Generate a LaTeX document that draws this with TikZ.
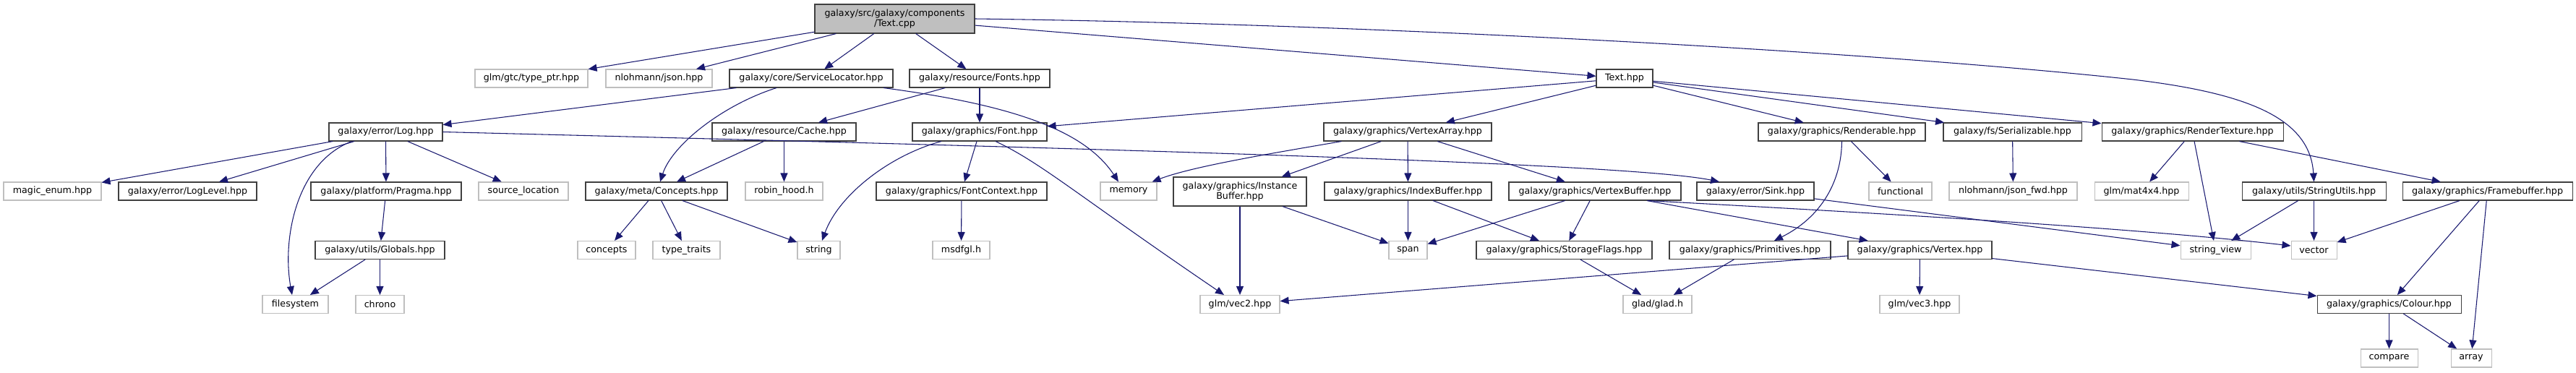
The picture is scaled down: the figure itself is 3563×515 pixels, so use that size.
\documentclass[tikz,border=0pt]{standalone}
\usepackage{fontspec}
\setmainfont{DejaVu Sans}
\usetikzlibrary{arrows.meta,calc}
\definecolor{edgeblue}{HTML}{191970}
\definecolor{docborder}{HTML}{404040}
\definecolor{extborder}{HTML}{BFBFBF}
\definecolor{mainfill}{HTML}{BFBFBF}
\begin{document}
\begin{tikzpicture}[x=0.75pt,y=-0.75pt,
  box/.style={rectangle, draw, line width=0.8pt, inner sep=0pt, minimum height=18.75pt, font=\fontsize{9.5}{11}\selectfont, text=black, align=center},
  doc/.style={box, draw=docborder},
  ext/.style={box, draw=extborder},
  dep/.style={draw=edgeblue, line width=0.8pt, -{Triangle[length=9pt,width=7.5pt]}}]
\useasboundingbox (0,0) rectangle (3563,515);
% row 1
\node[box, draw=docborder, fill=mainfill, minimum width=165.75pt, minimum height=30pt] (textcpp) at (1237.5,26) {galaxy/src/galaxy/components\\/Text.cpp};
% row 2
\node[ext, minimum width=117pt] (typeptr) at (735,108.5) {glm/gtc/type\_ptr.hpp};
\node[ext, minimum width=110.25pt] (json) at (911.5,108.5) {nlohmann/json.hpp};
\node[doc, minimum width=169.5pt] (svcloc) at (1122,108.5) {galaxy/core/ServiceLocator.hpp};
\node[doc, minimum width=145.5pt] (fonts) at (1355,108.5) {galaxy/resource/Fonts.hpp};
\node[doc, minimum width=58.5pt] (texthpp) at (2247,108.5) {Text.hpp};
% row 3
\node[doc, minimum width=117.75pt] (log) at (533.5,182.5) {galaxy/error/Log.hpp};
\node[doc, minimum width=149.25pt] (cache) at (1084.5,182.5) {galaxy/resource/Cache.hpp};
\node[doc, minimum width=139.5pt] (font) at (1355,182.5) {galaxy/graphics/Font.hpp};
\node[doc, minimum width=174pt] (va) at (1947,182.5) {galaxy/graphics/VertexArray.hpp};
\node[doc, minimum width=173.25pt] (renderable) at (2547.5,182.5) {galaxy/graphics/Renderable.hpp};
\node[doc, minimum width=143.25pt] (serializable) at (2783.5,182.5) {galaxy/fs/Serializable.hpp};
\node[doc, minimum width=188.25pt] (rendertexture) at (3032.5,182.5) {galaxy/graphics/RenderTexture.hpp};
% row 4
\node[ext, minimum width=101.25pt] (magic) at (72.5,264.5) {magic\_enum.hpp};
\node[doc, minimum width=143.25pt] (loglevel) at (259.5,264.5) {galaxy/error/LogLevel.hpp};
\node[doc, minimum width=156pt] (pragma) at (534,264.5) {galaxy/platform/Pragma.hpp};
\node[ext, minimum width=93pt] (srcloc) at (724,264.5) {source\_location};
\node[doc, minimum width=147pt] (conceptshpp) at (908,264.5) {galaxy/meta/Concepts.hpp};
\node[ext, minimum width=80.25pt] (robin) at (1084.5,264.5) {robin\_hood.h};
\node[doc, minimum width=177pt] (fontctx) at (1330,264.5) {galaxy/graphics/FontContext.hpp};
\node[ext, minimum width=58.5pt] (memory) at (1561,264.5) {memory};
\node[doc, minimum width=138pt, minimum height=30pt] (instbuf) at (1715,265) {galaxy/graphics/Instance\\Buffer.hpp};
\node[doc, minimum width=173.25pt] (indexbuf) at (1947.5,264.5) {galaxy/graphics/IndexBuffer.hpp};
\node[doc, minimum width=178.5pt] (vertexbuf) at (2206,264.5) {galaxy/graphics/VertexBuffer.hpp};
\node[doc, minimum width=121.5pt] (sink) at (2428,264.5) {galaxy/error/Sink.hpp};
\node[ext, minimum width=65.25pt] (functional) at (2628.5,264.5) {functional};
\node[ext, minimum width=132.75pt] (jsonfwd) at (2784.5,264.5) {nlohmann/json\_fwd.hpp};
\node[ext, minimum width=97.5pt] (mat4) at (2962,264.5) {glm/mat4x4.hpp};
\node[doc, minimum width=149.25pt] (stringutils) at (3200.5,264.5) {galaxy/utils/StringUtils.hpp};
\node[doc, minimum width=176.25pt] (framebuffer) at (3440.5,264.5) {galaxy/graphics/Framebuffer.hpp};
% row 5
\node[doc, minimum width=134.25pt] (globals) at (525.5,346) {galaxy/utils/Globals.hpp};
\node[ext, minimum width=60pt] (concepts) at (839,346) {concepts};
\node[ext, minimum width=69.75pt] (typetraits) at (949.5,346) {type\_traits};
\node[ext, minimum width=44.25pt] (string) at (1132.5,346) {string};
\node[ext, minimum width=59.25pt] (msdfgl) at (1329.5,346) {msdfgl.h};
\node[ext, minimum width=39.75pt] (span) at (1947.5,346) {span};
\node[doc, minimum width=182.25pt] (storageflags) at (2163.5,346) {galaxy/graphics/StorageFlags.hpp};
\node[doc, minimum width=167.25pt] (primitives) at (2420.5,346) {galaxy/graphics/Primitives.hpp};
\node[doc, minimum width=149.25pt] (vertex) at (2655.5,346) {galaxy/graphics/Vertex.hpp};
\node[ext, minimum width=72.75pt] (stringview) at (3064.5,346) {string\_view};
\node[ext, minimum width=47.25pt] (vector) at (3200.5,346) {vector};
% row 6
\node[ext, minimum width=68.25pt] (filesystem) at (408.5,421) {filesystem};
\node[ext, minimum width=50.25pt] (chrono) at (525.5,421) {chrono};
\node[ext, minimum width=82.5pt] (vec2) at (1715,421) {glm/vec2.hpp};
\node[ext, minimum width=71.25pt] (glad) at (2292.5,421) {glad/glad.h};
\node[ext, minimum width=82.5pt] (vec3) at (2655,421) {glm/vec3.hpp};
\node[doc, minimum width=149.25pt] (colour) at (3304.5,421) {galaxy/graphics/Colour.hpp};
% row 7
\node[ext, minimum width=59.25pt] (compare) at (3304.5,495.5) {compare};
\node[ext, minimum width=42pt] (array) at (3418,495.5) {array};

% edges from Text.cpp
\draw[dep] (textcpp) -- (typeptr);
\draw[dep] (textcpp) -- (json);
\draw[dep] (textcpp) -- (svcloc);
\draw[dep] (textcpp) -- (fonts);
\draw[dep] (textcpp) -- (texthpp);
\draw[dep] (textcpp.east) .. controls (1900,33) and (2600,72) .. (2950,110) .. controls (3100,128) and (3195,160) .. (stringutils.north);
% ServiceLocator
\draw[dep] (svcloc) -- (log);
\draw[dep] ($(svcloc.south)+(-48,0)$) .. controls (1000,145) and (930,200) .. ($(conceptshpp.north)+(5,0)$);
\draw[dep] ($(svcloc.south)+(100,0)$) .. controls (1400,145) and (1500,180) .. ($(memory.north)+(-14,0)$);
% Fonts
\draw[dep] (fonts) -- (cache);
\draw[dep] (fonts) -- (font);
% Cache
\draw[dep] (cache) -- (conceptshpp);
\draw[dep] (cache) -- (robin);
% Log
\draw[dep] (log) -- (magic);
\draw[dep] (log) -- (loglevel);
\draw[dep] ($(log.south)+(-47,0)$) .. controls (410,225) and (390,330) .. ($(filesystem.north)+(-4.5,0)$);
\draw[dep] (log) -- (pragma);
\draw[dep] (log) -- (srcloc);
\draw[dep] (log.east) .. controls (1500,205) and (2250,225) .. ($(sink.north)+(-50,0)$);
% Pragma, Globals
\draw[dep] (pragma) -- (globals);
\draw[dep] (globals) -- (filesystem);
\draw[dep] (globals) -- (chrono);
% Concepts
\draw[dep] (conceptshpp) -- (concepts);
\draw[dep] (conceptshpp) -- (typetraits);
\draw[dep] (conceptshpp) -- (string);
% Font
\draw[dep] ($(font.south)+(-53,0)$) .. controls (1230,215) and (1160,270) .. ($(string.north)+(4.5,0)$);
\draw[dep] (font) -- (fontctx);
\draw[dep] ($(font.south)+(22,0)$) .. controls (1440,225) and (1490,270) .. ($(vec2.north)+(-22,0)$);
\draw[dep] (fontctx) -- (msdfgl);
% Text.hpp
\draw[dep] (texthpp) -- (font);
\draw[dep] (texthpp) -- (va);
\draw[dep] (texthpp) -- (renderable);
\draw[dep] (texthpp) -- (serializable);
\draw[dep] (texthpp) -- (rendertexture);
% VertexArray
\draw[dep] ($(va.south west)+(25,0)$) .. controls (1760,212) and (1650,230) .. ($(memory.north east)+(-7,0)$);
\draw[dep] (va) -- (instbuf);
\draw[dep] (va) -- (indexbuf);
\draw[dep] (va) -- (vertexbuf);
% InstanceBuffer, IndexBuffer
\draw[dep] (instbuf) -- (span);
\draw[dep] (instbuf) -- (vec2);
\draw[dep] (indexbuf) -- (span);
\draw[dep] (indexbuf) -- (storageflags);
% VertexBuffer
\draw[dep] (vertexbuf) -- (span);
\draw[dep] (vertexbuf) -- (storageflags);
\draw[dep] (vertexbuf) -- (vertex);
\draw[dep] ($(vertexbuf.south)+(73,0)$) .. controls (2600,295) and (2950,315) .. ($(vector.west)+(0,-6)$);
% Sink
\draw[dep] (sink) -- (stringview);
% Vertex
\draw[dep] (vertex) -- (vec2);
\draw[dep] (vertex) -- (vec3);
\draw[dep] (vertex) -- (colour);
% Primitives, StorageFlags
\draw[dep] (primitives) -- (glad);
\draw[dep] (storageflags) -- (glad);
% Renderable, Serializable
\draw[dep] (renderable.south) .. controls (2547,250) and (2520,300) .. ($(primitives.north)+(33.5,0)$);
\draw[dep] (renderable) -- (functional);
\draw[dep] (serializable) -- (jsonfwd);
% RenderTexture
\draw[dep] (rendertexture) -- (mat4);
\draw[dep] (rendertexture) -- (stringview);
\draw[dep] (rendertexture) -- (framebuffer);
% StringUtils
\draw[dep] (stringutils) -- (stringview);
\draw[dep] (stringutils) -- (vector);
% Framebuffer
\draw[dep] (framebuffer) -- (vector);
\draw[dep] (framebuffer) -- (colour);
\draw[dep] (framebuffer) -- (array);
% Colour
\draw[dep] (colour) -- (compare);
\draw[dep] (colour) -- (array);
\end{tikzpicture}
\end{document}
